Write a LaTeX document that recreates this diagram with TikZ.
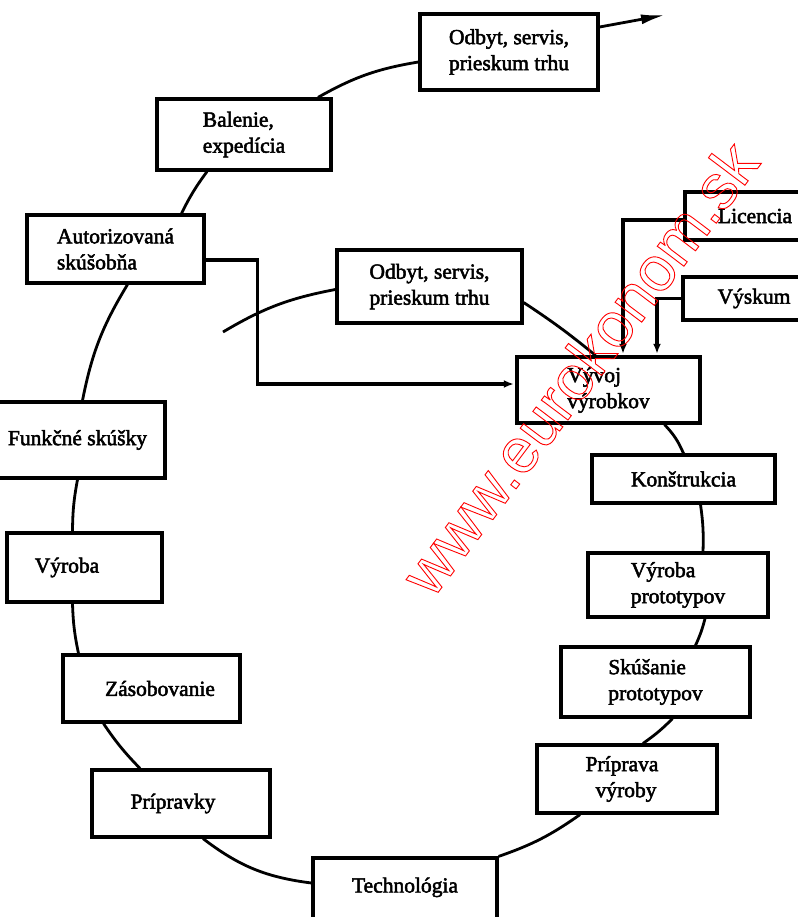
\documentclass[tikz,border=0pt]{standalone}
\usepackage{fontspec}
\setmainfont{Liberation Serif}
\newfontfamily\wmfont{Liberation Sans}
\usetikzlibrary{arrows.meta,backgrounds}
\newcommand{\bxfont}{\fontsize{21.5}{26}\selectfont}
\begin{document}
\begin{tikzpicture}[x=1pt,y=-1pt,
  box/.style={draw, line width=3.2pt, fill=white, inner sep=0pt, align=left, font=\bxfont,
    execute at begin node={\special{pdf:literal direct 2 Tr 0.5 w}},
    execute at end node={\special{pdf:literal direct 0 Tr 3.2 w}}},
  link/.style={line width=2.8pt},
  arr/.style={line width=3.4pt, -{Latex[length=10pt,width=8pt]}},
  bigarr/.style={line width=2.8pt, -{Latex[length=24pt,width=10pt]}}]
\useasboundingbox (0,0) rectangle (797,917);

% boxes
\node[box, minimum width=178, minimum height=76, align=center] (odb1) at (509,52) {Odbyt, servis,\\prieskum trhu};
\node[box, minimum width=174, minimum height=71] (bal) at (244,134.5) {Balenie,\\expedícia};
\node[box, minimum width=177, minimum height=68] (aut) at (115.5,249) {Autorizovaná\\skúšobňa};
\node[box, minimum width=185, minimum height=73, align=center] (odb2) at (429.5,286.5) {Odbyt, servis,\\prieskum trhu};
\node[box, minimum width=183, minimum height=66] (vyv) at (608.5,390) {Vývoj\\výrobkov};
\node[box, minimum width=120, minimum height=48] (lic) at (745,216) {\hspace*{20pt}Licencia};
\node[box, minimum width=122, minimum height=43] (vys) at (744,298.5) {\hspace*{20pt}Výskum};
\node[box, minimum width=183, minimum height=48] (kon) at (683.5,479) {Konštrukcia};
\node[box, minimum width=180, minimum height=64] (vyp) at (678,585) {Výroba\\prototypov};
\node[box, minimum width=189, minimum height=70] (sku) at (655.5,682) {Skúšanie\\prototypov};
\node[box, minimum width=180, minimum height=68] (pri) at (627,779) {\hspace*{-10pt}Príprava\\výroby};
\node[box, minimum width=184, minimum height=72] (tech) at (405,894) {\raisebox{18pt}{Technológia}};
\node[box, minimum width=178, minimum height=67] (prip) at (181,803.5) {\hspace*{-16pt}Prípravky};
\node[box, minimum width=177, minimum height=67] (zas) at (151.5,688.5) {\hspace*{17pt}Zásobovanie};
\node[box, minimum width=155, minimum height=69] (vyr) at (84.5,567.5) {\hspace*{-35pt}Výroba};
\node[box, minimum width=175, minimum height=76] (fun) at (77.5,440) {Funkčné skúšky};

\coordinate (out) at (665,15);
\coordinate (start) at (223,332);

\begin{pgfonlayer}{background}
% outer spiral
\draw[link] ([xshift=56pt]vyv.south) to[bend left=10] (kon.north);
\draw[link] ([xshift=17pt]kon.south) to[bend left=5] ([xshift=25pt]vyp.north);
\draw[link] ([xshift=27pt]vyp.south) to[bend left=5] ([xshift=40pt]sku.north);
\draw[link] ([xshift=17pt]sku.south) to[bend left=5] ([xshift=16pt]pri.north);
\draw[link] ([xshift=-47pt]pri.south) to[bend left=8] (tech.north east);
\draw[link] ([yshift=11pt]tech.west) to[bend left=15] ([xshift=22pt]prip.south);
\draw[link] ([xshift=-41pt]prip.north) to[bend left=5] ([xshift=-48pt]zas.south);
\draw[link] ([xshift=-73pt]zas.north) to[bend left=5] ([xshift=-12pt]vyr.south);
\draw[link] ([xshift=-12pt]vyr.north) to[bend left=5] (fun.south);
\draw[link] ([xshift=5pt]fun.north) to[bend left=10] ([xshift=12pt]aut.south);
\draw[link] ([xshift=66pt]aut.north) to[bend left=5] ([xshift=-37pt]bal.south);
\draw[link] ([xshift=74pt]bal.north) to[bend left=10] ([yshift=-10pt]odb1.west);
\draw[bigarr] ([yshift=25pt]odb1.east) -- (out);
% inner arc
\draw[link] (start) to[bend left=10] ([yshift=-3pt]odb2.west);
\draw[link] ([yshift=-16pt]odb2.east) to[bend left=3] ([xshift=-13pt]vyv.north);
% connectors into Vyvoj
\draw[arr] ([yshift=-11pt]aut.east) -| ([xshift=-258pt,yshift=6pt]vyv.west) -- ([xshift=-1.6pt,yshift=6pt]vyv.west);
\draw[arr] ([yshift=-4pt]lic.west) -| ([xshift=14.5pt,yshift=1.6pt]vyv.north);
\draw[arr] (vys.west) -| ([xshift=48.5pt,yshift=1.6pt]vyv.north);
\end{pgfonlayer}

% watermark
\node[red, rotate=53, font=\wmfont\fontsize{63}{63}\selectfont, inner sep=0pt] (wm) at (579,368)
  {\special{pdf:literal direct 1 Tr 0.9 w}www.eurokonom.sk\special{pdf:literal direct 0 Tr}};
\end{tikzpicture}
\end{document}
